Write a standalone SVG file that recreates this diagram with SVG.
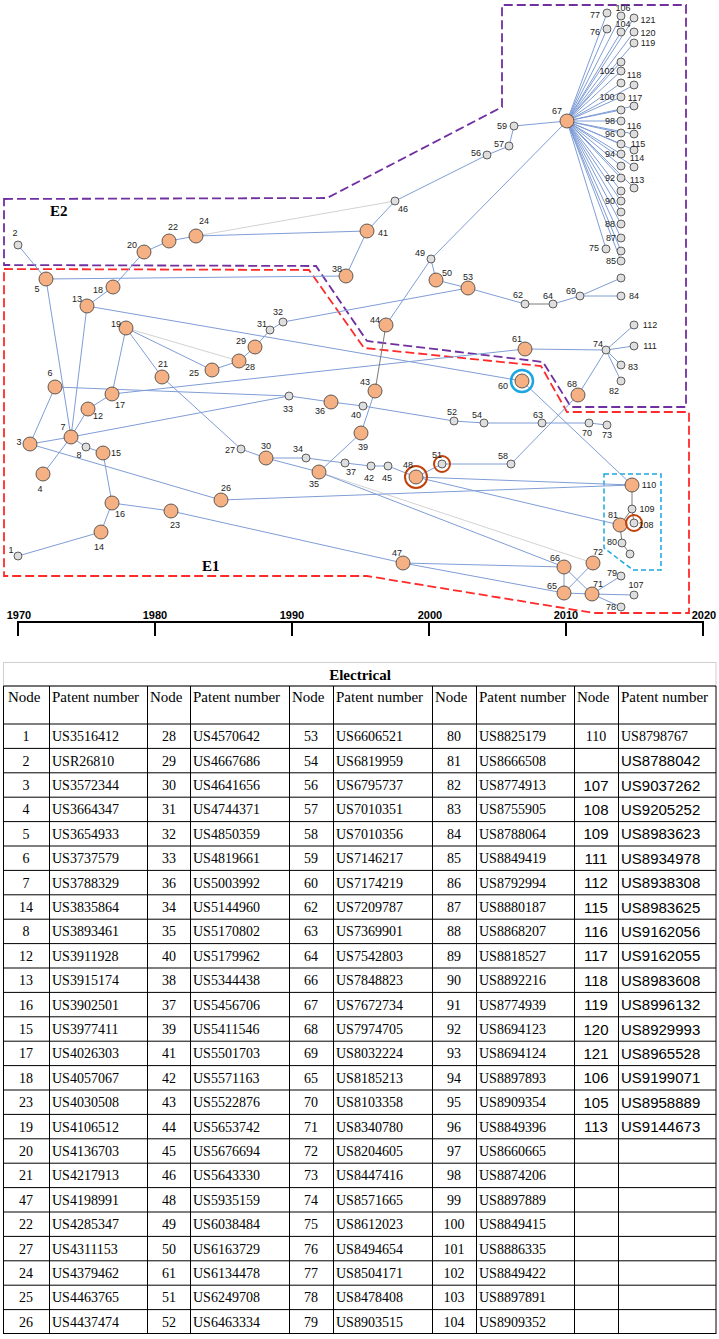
<svg xmlns="http://www.w3.org/2000/svg" width="719" height="1339" viewBox="0 0 719 1339">
<style>
.e{stroke:#7f9dd6;stroke-width:1;fill:none}
.eg{stroke:#d2d2d2;stroke-width:1;fill:none}
.ed{stroke:#7a7a7a;stroke-width:1;fill:none}
.o{fill:#f5b183;stroke:#3a3a3a;stroke-width:0.8}
.g{fill:#dedede;stroke:#3a3a3a;stroke-width:0.8}
.l{font-family:"Liberation Sans",Arial,sans-serif;font-size:9px;fill:#222;text-anchor:middle;dominant-baseline:central}
.ring{fill:none;stroke:#c0420a;stroke-width:2}
.bring{fill:none;stroke:#1ba6e2;stroke-width:2.5}
.reg{font-family:"Liberation Serif","Times New Roman",serif;font-size:15px;font-weight:bold;fill:#000}
.yr{font-family:"Liberation Sans",Arial,sans-serif;font-size:11px;font-weight:bold;text-anchor:middle;fill:#000}
.tn{font-family:"Liberation Serif","Times New Roman",serif;font-size:14px;text-anchor:middle;fill:#000}
.tp{font-family:"Liberation Serif","Times New Roman",serif;font-size:14px;fill:#000}
.an{font-family:"Liberation Sans",Arial,sans-serif;font-size:15px;text-anchor:middle;fill:#000}
.ap{font-family:"Liberation Sans",Arial,sans-serif;font-size:15px;fill:#000}
.th{font-family:"Liberation Serif","Times New Roman",serif;font-size:15px;fill:#000}
</style>
<rect width="719" height="1339" fill="#fff"/>
<g id="regions">
<polygon points="4,199 327,198 502,107 502,5 686,5 686,407 571,407 543,362 367,341 316,266 4,265" fill="none" stroke="#7030a0" stroke-width="1.8" stroke-dasharray="9,4"/>
<polygon points="4,269 309,270 364,348 541,366 567,412 689,412 689,613 594,613 367,576 4,576" fill="none" stroke="#ff2a2a" stroke-width="1.8" stroke-dasharray="9,4"/>
<polygon points="604,474 661,474 661,570 633,570 604,548" fill="none" stroke="#1ba6e2" stroke-width="1.5" stroke-dasharray="5,3"/>
<text class="reg" x="50" y="216">E2</text>
<text class="reg" x="202" y="571">E1</text>
</g>
<g id="edges">
<line class="eg" x1="196" y1="236" x2="395" y2="201"/>
<line class="eg" x1="126" y1="328" x2="239" y2="361"/>
<line class="eg" x1="319" y1="472" x2="593" y2="563"/>
<line class="e" x1="18" y1="245" x2="46" y2="279"/>
<line class="e" x1="46" y1="279" x2="71" y2="437"/>
<line class="e" x1="46" y1="279" x2="346" y2="276"/>
<line class="e" x1="87" y1="306" x2="71" y2="437"/>
<line class="e" x1="87" y1="306" x2="113" y2="287"/>
<line class="e" x1="113" y1="287" x2="144" y2="252"/>
<line class="e" x1="144" y1="252" x2="169" y2="241"/>
<line class="e" x1="169" y1="241" x2="196" y2="236"/>
<line class="e" x1="196" y1="236" x2="367" y2="231"/>
<line class="e" x1="367" y1="231" x2="395" y2="201"/>
<line class="e" x1="367" y1="231" x2="346" y2="276"/>
<line class="e" x1="395" y1="201" x2="487" y2="155"/>
<line class="e" x1="487" y1="155" x2="509" y2="146"/>
<line class="e" x1="509" y1="146" x2="514" y2="126"/>
<line class="e" x1="514" y1="126" x2="567" y2="121"/>
<line class="e" x1="87" y1="306" x2="522" y2="381"/>
<line class="e" x1="126" y1="328" x2="112" y2="394"/>
<line class="e" x1="126" y1="328" x2="162" y2="377"/>
<line class="e" x1="126" y1="328" x2="212" y2="370"/>
<line class="e" x1="212" y1="370" x2="239" y2="361"/>
<line class="e" x1="239" y1="361" x2="255" y2="347"/>
<line class="e" x1="255" y1="347" x2="270" y2="330"/>
<line class="e" x1="270" y1="330" x2="283" y2="322"/>
<line class="e" x1="283" y1="322" x2="468" y2="288"/>
<line class="e" x1="162" y1="377" x2="241" y2="449"/>
<line class="e" x1="241" y1="449" x2="266" y2="458"/>
<line class="e" x1="266" y1="458" x2="306" y2="458"/>
<line class="e" x1="306" y1="458" x2="345" y2="463"/>
<line class="e" x1="345" y1="463" x2="371" y2="466"/>
<line class="e" x1="371" y1="466" x2="388" y2="466"/>
<line class="e" x1="388" y1="466" x2="416" y2="477"/>
<line class="e" x1="266" y1="458" x2="319" y2="472"/>
<line class="e" x1="319" y1="472" x2="361" y2="433"/>
<line class="e" x1="361" y1="433" x2="375" y2="391"/>
<line class="e" x1="319" y1="472" x2="564" y2="567"/>
<line class="e" x1="386" y1="325" x2="431" y2="259"/>
<line class="e" x1="431" y1="259" x2="567" y2="121"/>
<line class="e" x1="431" y1="259" x2="436" y2="280"/>
<line class="e" x1="436" y1="280" x2="468" y2="288"/>
<line class="e" x1="468" y1="288" x2="525" y2="304"/>
<line class="e" x1="553" y1="304" x2="580" y2="296"/>
<line class="e" x1="580" y1="296" x2="621" y2="296"/>
<line class="e" x1="580" y1="296" x2="621" y2="278"/>
<line class="e" x1="55" y1="387" x2="30" y2="444"/>
<line class="e" x1="55" y1="387" x2="289" y2="396"/>
<line class="e" x1="289" y1="396" x2="331" y2="402"/>
<line class="e" x1="331" y1="402" x2="363" y2="406"/>
<line class="e" x1="363" y1="406" x2="454" y2="421"/>
<line class="e" x1="454" y1="421" x2="484" y2="423"/>
<line class="e" x1="484" y1="423" x2="542" y2="423"/>
<line class="e" x1="542" y1="423" x2="589" y2="423"/>
<line class="e" x1="589" y1="423" x2="607" y2="425"/>
<line class="e" x1="112" y1="394" x2="525" y2="349"/>
<line class="e" x1="525" y1="349" x2="606" y2="350"/>
<line class="e" x1="606" y1="350" x2="634" y2="325"/>
<line class="e" x1="606" y1="350" x2="634" y2="346"/>
<line class="e" x1="606" y1="350" x2="621" y2="365"/>
<line class="e" x1="606" y1="350" x2="621" y2="381"/>
<line class="e" x1="71" y1="437" x2="289" y2="396"/>
<line class="e" x1="30" y1="444" x2="71" y2="437"/>
<line class="e" x1="71" y1="437" x2="43" y2="474"/>
<line class="e" x1="71" y1="437" x2="88" y2="409"/>
<line class="e" x1="88" y1="409" x2="112" y2="394"/>
<line class="e" x1="71" y1="437" x2="86" y2="447"/>
<line class="e" x1="86" y1="447" x2="103" y2="453"/>
<line class="e" x1="103" y1="453" x2="112" y2="503"/>
<line class="e" x1="112" y1="503" x2="101" y2="532"/>
<line class="e" x1="101" y1="532" x2="18" y2="556"/>
<line class="e" x1="112" y1="503" x2="171" y2="511"/>
<line class="e" x1="171" y1="511" x2="403" y2="563"/>
<line class="e" x1="30" y1="444" x2="221" y2="500"/>
<line class="e" x1="221" y1="500" x2="632" y2="485"/>
<line class="e" x1="416" y1="477" x2="442" y2="464"/>
<line class="e" x1="442" y1="464" x2="511" y2="464"/>
<line class="e" x1="511" y1="464" x2="578" y2="395"/>
<line class="e" x1="578" y1="395" x2="606" y2="350"/>
<line class="e" x1="522" y1="381" x2="632" y2="485"/>
<line class="e" x1="416" y1="477" x2="632" y2="485"/>
<line class="e" x1="416" y1="477" x2="620" y2="525"/>
<line class="e" x1="403" y1="563" x2="564" y2="593"/>
<line class="e" x1="403" y1="563" x2="564" y2="567"/>
<line class="e" x1="564" y1="593" x2="564" y2="567"/>
<line class="e" x1="564" y1="593" x2="592" y2="594"/>
<line class="e" x1="564" y1="567" x2="592" y2="594"/>
<line class="e" x1="564" y1="593" x2="593" y2="563"/>
<line class="e" x1="592" y1="594" x2="621" y2="576"/>
<line class="e" x1="592" y1="594" x2="634" y2="595"/>
<line class="e" x1="592" y1="594" x2="621" y2="607"/>
<g id="fan">
<line class="e" x1="567" y1="121" x2="607" y2="13"/>
<line class="e" x1="567" y1="121" x2="607" y2="29"/>
<line class="e" x1="567" y1="121" x2="606" y2="249"/>
<line class="e" x1="567" y1="121" x2="621" y2="16"/>
<line class="e" x1="567" y1="121" x2="621" y2="32"/>
<line class="e" x1="567" y1="121" x2="621" y2="62"/>
<line class="e" x1="567" y1="121" x2="621" y2="71"/>
<line class="e" x1="567" y1="121" x2="621" y2="83"/>
<line class="e" x1="567" y1="121" x2="621" y2="97"/>
<line class="e" x1="567" y1="121" x2="621" y2="110"/>
<line class="e" x1="567" y1="121" x2="621" y2="121"/>
<line class="e" x1="567" y1="121" x2="621" y2="133"/>
<line class="e" x1="567" y1="121" x2="621" y2="144"/>
<line class="e" x1="567" y1="121" x2="621" y2="154"/>
<line class="e" x1="567" y1="121" x2="621" y2="166"/>
<line class="e" x1="567" y1="121" x2="621" y2="178"/>
<line class="e" x1="567" y1="121" x2="621" y2="191"/>
<line class="e" x1="567" y1="121" x2="621" y2="201"/>
<line class="e" x1="567" y1="121" x2="621" y2="212"/>
<line class="e" x1="567" y1="121" x2="621" y2="224"/>
<line class="e" x1="567" y1="121" x2="621" y2="238"/>
<line class="e" x1="567" y1="121" x2="621" y2="251"/>
<line class="e" x1="567" y1="121" x2="621" y2="261"/>
<line class="e" x1="567" y1="121" x2="634" y2="18"/>
<line class="e" x1="567" y1="121" x2="634" y2="32"/>
<line class="e" x1="567" y1="121" x2="634" y2="43"/>
<line class="e" x1="567" y1="121" x2="634" y2="85"/>
<line class="e" x1="567" y1="121" x2="634" y2="106"/>
<line class="e" x1="567" y1="121" x2="634" y2="134"/>
<line class="e" x1="567" y1="121" x2="634" y2="150"/>
<line class="e" x1="567" y1="121" x2="634" y2="167"/>
<line class="e" x1="567" y1="121" x2="634" y2="188"/>
</g>
<line class="ed" x1="375" y1="391" x2="386" y2="325"/>
<line class="ed" x1="525" y1="304" x2="553" y2="304"/>
<line class="ed" x1="632" y1="485" x2="632" y2="509"/>
<line class="ed" x1="632" y1="509" x2="620" y2="525"/>
<line class="ed" x1="632" y1="509" x2="634" y2="523"/>
<line class="ed" x1="620" y1="525" x2="622" y2="543"/>
<line class="ed" x1="622" y1="543" x2="630" y2="554"/>
</g>
<g id="nodes">
<g id="n1"><circle class="g" cx="18" cy="556" r="4"/><text class="l" x="11" y="550">1</text></g>
<g id="n2"><circle class="g" cx="18" cy="245" r="4"/><text class="l" x="15" y="233">2</text></g>
<g id="n3"><circle class="o" cx="30" cy="444" r="7"/><text class="l" x="19" y="442">3</text></g>
<g id="n4"><circle class="o" cx="43" cy="474" r="7"/><text class="l" x="40" y="489">4</text></g>
<g id="n5"><circle class="o" cx="46" cy="279" r="7"/><text class="l" x="37" y="289">5</text></g>
<g id="n6"><circle class="o" cx="55" cy="387" r="7"/><text class="l" x="50" y="373">6</text></g>
<g id="n7"><circle class="o" cx="71" cy="437" r="7"/><text class="l" x="63" y="427">7</text></g>
<g id="n8"><circle class="g" cx="86" cy="447" r="4"/><text class="l" x="79" y="455">8</text></g>
<g id="n12"><circle class="o" cx="88" cy="409" r="7"/><text class="l" x="98" y="416">12</text></g>
<g id="n13"><circle class="o" cx="87" cy="306" r="7"/><text class="l" x="77" y="299">13</text></g>
<g id="n14"><circle class="o" cx="101" cy="532" r="7"/><text class="l" x="99" y="547">14</text></g>
<g id="n15"><circle class="o" cx="103" cy="453" r="7"/><text class="l" x="116" y="453">15</text></g>
<g id="n16"><circle class="o" cx="112" cy="503" r="7"/><text class="l" x="120" y="514">16</text></g>
<g id="n17"><circle class="o" cx="112" cy="394" r="7"/><text class="l" x="120" y="405">17</text></g>
<g id="n18"><circle class="o" cx="113" cy="287" r="7"/><text class="l" x="98" y="290">18</text></g>
<g id="n19"><circle class="o" cx="126" cy="328" r="7"/><text class="l" x="116" y="324">19</text></g>
<g id="n20"><circle class="o" cx="144" cy="252" r="7"/><text class="l" x="132" y="245">20</text></g>
<g id="n21"><circle class="o" cx="162" cy="377" r="7"/><text class="l" x="163" y="364">21</text></g>
<g id="n22"><circle class="o" cx="169" cy="241" r="7"/><text class="l" x="173" y="227">22</text></g>
<g id="n23"><circle class="o" cx="171" cy="511" r="7"/><text class="l" x="175" y="525">23</text></g>
<g id="n24"><circle class="o" cx="196" cy="236" r="7"/><text class="l" x="204" y="221">24</text></g>
<g id="n25"><circle class="o" cx="212" cy="370" r="7"/><text class="l" x="194" y="373">25</text></g>
<g id="n26"><circle class="o" cx="221" cy="500" r="7"/><text class="l" x="226" y="488">26</text></g>
<g id="n27"><circle class="g" cx="241" cy="449" r="4"/><text class="l" x="230" y="450">27</text></g>
<g id="n28"><circle class="o" cx="239" cy="361" r="7"/><text class="l" x="250" y="367">28</text></g>
<g id="n29"><circle class="o" cx="255" cy="347" r="7"/><text class="l" x="241" y="341">29</text></g>
<g id="n30"><circle class="o" cx="266" cy="458" r="7"/><text class="l" x="266" y="446">30</text></g>
<g id="n31"><circle class="g" cx="270" cy="330" r="4"/><text class="l" x="262" y="324">31</text></g>
<g id="n32"><circle class="g" cx="283" cy="322" r="4"/><text class="l" x="278" y="312">32</text></g>
<g id="n33"><circle class="g" cx="289" cy="396" r="4"/><text class="l" x="288" y="409">33</text></g>
<g id="n34"><circle class="g" cx="306" cy="458" r="4"/><text class="l" x="298" y="449">34</text></g>
<g id="n35"><circle class="o" cx="319" cy="472" r="7"/><text class="l" x="314" y="484">35</text></g>
<g id="n36"><circle class="o" cx="331" cy="402" r="7"/><text class="l" x="320" y="411">36</text></g>
<g id="n37"><circle class="g" cx="345" cy="463" r="4"/><text class="l" x="351" y="472">37</text></g>
<g id="n38"><circle class="o" cx="346" cy="276" r="7"/><text class="l" x="337" y="269">38</text></g>
<g id="n39"><circle class="o" cx="361" cy="433" r="7"/><text class="l" x="363" y="447">39</text></g>
<g id="n40"><circle class="g" cx="363" cy="406" r="4"/><text class="l" x="356" y="415">40</text></g>
<g id="n41"><circle class="o" cx="367" cy="231" r="7"/><text class="l" x="383" y="233">41</text></g>
<g id="n42"><circle class="g" cx="371" cy="466" r="4"/><text class="l" x="369" y="478">42</text></g>
<g id="n43"><circle class="o" cx="375" cy="391" r="7"/><text class="l" x="365" y="382">43</text></g>
<g id="n44"><circle class="o" cx="386" cy="325" r="7"/><text class="l" x="375" y="320">44</text></g>
<g id="n45"><circle class="g" cx="388" cy="466" r="4"/><text class="l" x="387" y="478">45</text></g>
<g id="n46"><circle class="g" cx="395" cy="201" r="4"/><text class="l" x="403" y="209">46</text></g>
<g id="n47"><circle class="o" cx="403" cy="563" r="7"/><text class="l" x="397" y="553">47</text></g>
<g id="n48"><circle class="o" cx="416" cy="477" r="7"/><circle class="ring" cx="416" cy="477" r="11"/><text class="l" x="408" y="465">48</text></g>
<g id="n49"><circle class="g" cx="431" cy="259" r="4"/><text class="l" x="420" y="253">49</text></g>
<g id="n50"><circle class="o" cx="436" cy="280" r="7"/><text class="l" x="447" y="273">50</text></g>
<g id="n51"><circle class="g" cx="442" cy="464" r="4"/><circle class="ring" cx="442" cy="464" r="8"/><text class="l" x="437" y="455">51</text></g>
<g id="n52"><circle class="g" cx="454" cy="421" r="4"/><text class="l" x="452" y="412">52</text></g>
<g id="n53"><circle class="o" cx="468" cy="288" r="7"/><text class="l" x="468" y="277">53</text></g>
<g id="n54"><circle class="g" cx="484" cy="423" r="4"/><text class="l" x="477" y="415">54</text></g>
<g id="n56"><circle class="g" cx="487" cy="155" r="4"/><text class="l" x="476" y="153">56</text></g>
<g id="n57"><circle class="g" cx="509" cy="146" r="4"/><text class="l" x="499" y="144">57</text></g>
<g id="n58"><circle class="g" cx="511" cy="464" r="4"/><text class="l" x="503" y="456">58</text></g>
<g id="n59"><circle class="g" cx="514" cy="126" r="4"/><text class="l" x="502" y="126">59</text></g>
<g id="n60"><circle class="o" cx="522" cy="381" r="7"/><circle class="bring" cx="522" cy="381" r="11"/><text class="l" x="503" y="386">60</text></g>
<g id="n61"><circle class="o" cx="525" cy="349" r="7"/><text class="l" x="517" y="339">61</text></g>
<g id="n62"><circle class="g" cx="525" cy="304" r="4"/><text class="l" x="518" y="295">62</text></g>
<g id="n63"><circle class="g" cx="542" cy="423" r="4"/><text class="l" x="538" y="415">63</text></g>
<g id="n64"><circle class="g" cx="553" cy="304" r="4"/><text class="l" x="548" y="296">64</text></g>
<g id="n65"><circle class="o" cx="564" cy="593" r="7"/><text class="l" x="552" y="586">65</text></g>
<g id="n66"><circle class="o" cx="564" cy="567" r="7"/><text class="l" x="555" y="558">66</text></g>
<g id="n67"><circle class="o" cx="567" cy="121" r="7"/><text class="l" x="557" y="111">67</text></g>
<g id="n68"><circle class="o" cx="578" cy="395" r="7"/><text class="l" x="572" y="384">68</text></g>
<g id="n69"><circle class="g" cx="580" cy="296" r="4"/><text class="l" x="571" y="291">69</text></g>
<g id="n70"><circle class="g" cx="589" cy="423" r="4"/><text class="l" x="587" y="433">70</text></g>
<g id="n71"><circle class="o" cx="592" cy="594" r="7"/><text class="l" x="598" y="584">71</text></g>
<g id="n72"><circle class="o" cx="593" cy="563" r="7"/><text class="l" x="598" y="552">72</text></g>
<g id="n73"><circle class="g" cx="607" cy="425" r="4"/><text class="l" x="607" y="435">73</text></g>
<g id="n74"><circle class="g" cx="606" cy="350" r="4"/><text class="l" x="598" y="344">74</text></g>
<g id="n75"><circle class="g" cx="606" cy="249" r="4"/><text class="l" x="594" y="248">75</text></g>
<g id="n76"><circle class="g" cx="607" cy="29" r="4"/><text class="l" x="595" y="32">76</text></g>
<g id="n77"><circle class="g" cx="607" cy="13" r="4"/><text class="l" x="595" y="15">77</text></g>
<g id="n78"><circle class="g" cx="621" cy="607" r="4"/><text class="l" x="611" y="607">78</text></g>
<g id="n79"><circle class="g" cx="621" cy="576" r="4"/><text class="l" x="612" y="573">79</text></g>
<g id="n80"><circle class="g" cx="622" cy="543" r="4"/><text class="l" x="612" y="542">80</text></g>
<g id="n81"><circle class="o" cx="620" cy="525" r="7"/><text class="l" x="613" y="515">81</text></g>
<g id="n82"><circle class="g" cx="621" cy="381" r="4"/><text class="l" x="614" y="391">82</text></g>
<g id="n83"><circle class="g" cx="621" cy="365" r="4"/><text class="l" x="633" y="367">83</text></g>
<g id="n84"><circle class="g" cx="621" cy="296" r="4"/><text class="l" x="634" y="296">84</text></g>
<g id="n85"><circle class="g" cx="621" cy="261" r="4"/><text class="l" x="611" y="261">85</text></g>
<g id="n86"><circle class="g" cx="621" cy="251" r="4"/></g>
<g id="n87"><circle class="g" cx="621" cy="238" r="4"/><text class="l" x="611" y="238">87</text></g>
<g id="n88"><circle class="g" cx="621" cy="224" r="4"/><text class="l" x="610" y="224">88</text></g>
<g id="n89"><circle class="g" cx="621" cy="212" r="4"/></g>
<g id="n90"><circle class="g" cx="621" cy="201" r="4"/><text class="l" x="610" y="201">90</text></g>
<g id="n91"><circle class="g" cx="621" cy="191" r="4"/></g>
<g id="n92"><circle class="g" cx="621" cy="178" r="4"/><text class="l" x="610" y="178">92</text></g>
<g id="n93"><circle class="g" cx="621" cy="166" r="4"/></g>
<g id="n94"><circle class="g" cx="621" cy="154" r="4"/><text class="l" x="610" y="154">94</text></g>
<g id="n95"><circle class="g" cx="621" cy="144" r="4"/></g>
<g id="n96"><circle class="g" cx="621" cy="133" r="4"/><text class="l" x="610" y="134">96</text></g>
<g id="n98"><circle class="g" cx="621" cy="121" r="4"/><text class="l" x="610" y="121">98</text></g>
<g id="n99"><circle class="g" cx="621" cy="110" r="4"/></g>
<g id="n100"><circle class="g" cx="621" cy="97" r="4"/><text class="l" x="607" y="97">100</text></g>
<g id="n101"><circle class="g" cx="621" cy="83" r="4"/></g>
<g id="n102"><circle class="g" cx="621" cy="71" r="4"/><text class="l" x="607" y="71">102</text></g>
<g id="n103"><circle class="g" cx="621" cy="62" r="4"/></g>
<g id="n104"><circle class="g" cx="621" cy="32" r="4"/><text class="l" x="623" y="24">104</text></g>
<g id="n106"><circle class="g" cx="621" cy="16" r="4"/><text class="l" x="623" y="8">106</text></g>
<g id="n107"><circle class="g" cx="634" cy="595" r="4"/><text class="l" x="636" y="585">107</text></g>
<g id="n108"><circle class="g" cx="634" cy="523" r="4"/><circle class="ring" cx="634" cy="523" r="8"/><text class="l" x="646" y="525">108</text></g>
<g id="n109"><circle class="g" cx="632" cy="509" r="4"/><text class="l" x="647" y="509">109</text></g>
<g id="n110"><circle class="o" cx="632" cy="485" r="7"/><text class="l" x="649" y="485">110</text></g>
<g id="n111"><circle class="g" cx="634" cy="346" r="4"/><text class="l" x="650" y="346">111</text></g>
<g id="n112"><circle class="g" cx="634" cy="325" r="4"/><text class="l" x="650" y="325">112</text></g>
<g id="n113"><circle class="g" cx="634" cy="188" r="4"/><text class="l" x="637" y="180">113</text></g>
<g id="n114"><circle class="g" cx="634" cy="167" r="4"/><text class="l" x="637" y="158">114</text></g>
<g id="n115"><circle class="g" cx="634" cy="150" r="4"/><text class="l" x="638" y="144">115</text></g>
<g id="n116"><circle class="g" cx="634" cy="134" r="4"/><text class="l" x="634" y="126">116</text></g>
<g id="n117"><circle class="g" cx="634" cy="106" r="4"/><text class="l" x="635" y="98">117</text></g>
<g id="n118"><circle class="g" cx="634" cy="85" r="4"/><text class="l" x="634" y="75">118</text></g>
<g id="n119"><circle class="g" cx="634" cy="43" r="4"/><text class="l" x="648" y="43">119</text></g>
<g id="n120"><circle class="g" cx="634" cy="32" r="4"/><text class="l" x="648" y="33">120</text></g>
<g id="n121"><circle class="g" cx="634" cy="18" r="4"/><text class="l" x="648" y="20">121</text></g>
<g id="n_a"><circle class="g" cx="621" cy="278" r="4"/></g>
<g id="n_b"><circle class="g" cx="630" cy="554" r="4"/></g>
</g>
<g id="axis" stroke="#000" stroke-width="2">
<line x1="17" y1="622" x2="704" y2="622"/>
<line x1="18" y1="621" x2="18" y2="636"/>
<line x1="155" y1="621" x2="155" y2="636"/>
<line x1="292" y1="621" x2="292" y2="636"/>
<line x1="429" y1="621" x2="429" y2="636"/>
<line x1="566" y1="621" x2="566" y2="636"/>
<line x1="703" y1="621" x2="703" y2="636"/>
</g>
<g id="years">
<text class="yr" x="19" y="619">1970</text>
<text class="yr" x="155" y="619">1980</text>
<text class="yr" x="292" y="619">1990</text>
<text class="yr" x="430" y="619">2000</text>
<text class="yr" x="566" y="619">2010</text>
<text class="yr" x="704" y="619">2020</text>
</g>
<g id="table">
<rect x="3.5" y="662.5" width="712.5" height="23.5" fill="none" stroke="#cfcfcf" stroke-width="1"/>
<text x="360" y="680" font-family="'Liberation Serif','Times New Roman',serif" font-size="15" font-weight="bold" text-anchor="middle">Electrical</text>
<path fill="none" stroke="#000" stroke-width="1" d="M3.5 686V1334M49.5 686V1334M147.5 686V1334M190.5 686V1334M289.5 686V1334M333.5 686V1334M432.5 686V1334M476.5 686V1334M574.5 686V1334M618.5 686V1334M716 686V1334M3.5 686H716M3.5 724H716M3.5 748.4H716M3.5 772.8H716M3.5 797.2H716M3.5 821.6H716M3.5 846H716M3.5 870.4H716M3.5 894.8H716M3.5 919.2H716M3.5 943.6H716M3.5 968H716M3.5 992.4H716M3.5 1016.8H716M3.5 1041.2H716M3.5 1065.6H716M3.5 1090H716M3.5 1114.4H716M3.5 1138.8H716M3.5 1163.2H716M3.5 1187.6H716M3.5 1212H716M3.5 1236.4H716M3.5 1260.8H716M3.5 1285.2H716M3.5 1309.6H716M3.5 1333.5H716"/>
<text class="th" y="702"><tspan x="8">Node</tspan><tspan x="52">Patent number</tspan><tspan x="150">Node</tspan><tspan x="193">Patent number</tspan><tspan x="292">Node</tspan><tspan x="336">Patent number</tspan><tspan x="435">Node</tspan><tspan x="479">Patent number</tspan><tspan x="577">Node</tspan><tspan x="621">Patent number</tspan></text>
<text class="tn"><tspan x="26" y="741.2">1</tspan><tspan x="26" y="765.6">2</tspan><tspan x="26" y="790">3</tspan><tspan x="26" y="814.4">4</tspan><tspan x="26" y="838.8">5</tspan><tspan x="26" y="863.2">6</tspan><tspan x="26" y="887.6">7</tspan><tspan x="26" y="912">14</tspan><tspan x="26" y="936.4">8</tspan><tspan x="26" y="960.8">12</tspan><tspan x="26" y="985.2">13</tspan><tspan x="26" y="1009.6">16</tspan><tspan x="26" y="1034">15</tspan><tspan x="26" y="1058.4">17</tspan><tspan x="26" y="1082.8">18</tspan><tspan x="26" y="1107.2">23</tspan><tspan x="26" y="1131.6">19</tspan><tspan x="26" y="1156">20</tspan><tspan x="26" y="1180.4">21</tspan><tspan x="26" y="1204.8">47</tspan><tspan x="26" y="1229.2">22</tspan><tspan x="26" y="1253.6">27</tspan><tspan x="26" y="1278">24</tspan><tspan x="26" y="1302.4">25</tspan><tspan x="26" y="1326.8">26</tspan></text>
<text class="tp"><tspan x="52" y="741.2">US3516412</tspan><tspan x="52" y="765.6">USR26810</tspan><tspan x="52" y="790">US3572344</tspan><tspan x="52" y="814.4">US3664347</tspan><tspan x="52" y="838.8">US3654933</tspan><tspan x="52" y="863.2">US3737579</tspan><tspan x="52" y="887.6">US3788329</tspan><tspan x="52" y="912">US3835864</tspan><tspan x="52" y="936.4">US3893461</tspan><tspan x="52" y="960.8">US3911928</tspan><tspan x="52" y="985.2">US3915174</tspan><tspan x="52" y="1009.6">US3902501</tspan><tspan x="52" y="1034">US3977411</tspan><tspan x="52" y="1058.4">US4026303</tspan><tspan x="52" y="1082.8">US4057067</tspan><tspan x="52" y="1107.2">US4030508</tspan><tspan x="52" y="1131.6">US4106512</tspan><tspan x="52" y="1156">US4136703</tspan><tspan x="52" y="1180.4">US4217913</tspan><tspan x="52" y="1204.8">US4198991</tspan><tspan x="52" y="1229.2">US4285347</tspan><tspan x="52" y="1253.6">US4311153</tspan><tspan x="52" y="1278">US4379462</tspan><tspan x="52" y="1302.4">US4463765</tspan><tspan x="52" y="1326.8">US4437474</tspan></text>
<text class="tn"><tspan x="169" y="741.2">28</tspan><tspan x="169" y="765.6">29</tspan><tspan x="169" y="790">30</tspan><tspan x="169" y="814.4">31</tspan><tspan x="169" y="838.8">32</tspan><tspan x="169" y="863.2">33</tspan><tspan x="169" y="887.6">36</tspan><tspan x="169" y="912">34</tspan><tspan x="169" y="936.4">35</tspan><tspan x="169" y="960.8">40</tspan><tspan x="169" y="985.2">38</tspan><tspan x="169" y="1009.6">37</tspan><tspan x="169" y="1034">39</tspan><tspan x="169" y="1058.4">41</tspan><tspan x="169" y="1082.8">42</tspan><tspan x="169" y="1107.2">43</tspan><tspan x="169" y="1131.6">44</tspan><tspan x="169" y="1156">45</tspan><tspan x="169" y="1180.4">46</tspan><tspan x="169" y="1204.8">48</tspan><tspan x="169" y="1229.2">49</tspan><tspan x="169" y="1253.6">50</tspan><tspan x="169" y="1278">61</tspan><tspan x="169" y="1302.4">51</tspan><tspan x="169" y="1326.8">52</tspan></text>
<text class="tp"><tspan x="193" y="741.2">US4570642</tspan><tspan x="193" y="765.6">US4667686</tspan><tspan x="193" y="790">US4641656</tspan><tspan x="193" y="814.4">US4744371</tspan><tspan x="193" y="838.8">US4850359</tspan><tspan x="193" y="863.2">US4819661</tspan><tspan x="193" y="887.6">US5003992</tspan><tspan x="193" y="912">US5144960</tspan><tspan x="193" y="936.4">US5170802</tspan><tspan x="193" y="960.8">US5179962</tspan><tspan x="193" y="985.2">US5344438</tspan><tspan x="193" y="1009.6">US5456706</tspan><tspan x="193" y="1034">US5411546</tspan><tspan x="193" y="1058.4">US5501703</tspan><tspan x="193" y="1082.8">US5571163</tspan><tspan x="193" y="1107.2">US5522876</tspan><tspan x="193" y="1131.6">US5653742</tspan><tspan x="193" y="1156">US5676694</tspan><tspan x="193" y="1180.4">US5643330</tspan><tspan x="193" y="1204.8">US5935159</tspan><tspan x="193" y="1229.2">US6038484</tspan><tspan x="193" y="1253.6">US6163729</tspan><tspan x="193" y="1278">US6134478</tspan><tspan x="193" y="1302.4">US6249708</tspan><tspan x="193" y="1326.8">US6463334</tspan></text>
<text class="tn"><tspan x="311" y="741.2">53</tspan><tspan x="311" y="765.6">54</tspan><tspan x="311" y="790">56</tspan><tspan x="311" y="814.4">57</tspan><tspan x="311" y="838.8">58</tspan><tspan x="311" y="863.2">59</tspan><tspan x="311" y="887.6">60</tspan><tspan x="311" y="912">62</tspan><tspan x="311" y="936.4">63</tspan><tspan x="311" y="960.8">64</tspan><tspan x="311" y="985.2">66</tspan><tspan x="311" y="1009.6">67</tspan><tspan x="311" y="1034">68</tspan><tspan x="311" y="1058.4">69</tspan><tspan x="311" y="1082.8">65</tspan><tspan x="311" y="1107.2">70</tspan><tspan x="311" y="1131.6">71</tspan><tspan x="311" y="1156">72</tspan><tspan x="311" y="1180.4">73</tspan><tspan x="311" y="1204.8">74</tspan><tspan x="311" y="1229.2">75</tspan><tspan x="311" y="1253.6">76</tspan><tspan x="311" y="1278">77</tspan><tspan x="311" y="1302.4">78</tspan><tspan x="311" y="1326.8">79</tspan></text>
<text class="tp"><tspan x="336" y="741.2">US6606521</tspan><tspan x="336" y="765.6">US6819959</tspan><tspan x="336" y="790">US6795737</tspan><tspan x="336" y="814.4">US7010351</tspan><tspan x="336" y="838.8">US7010356</tspan><tspan x="336" y="863.2">US7146217</tspan><tspan x="336" y="887.6">US7174219</tspan><tspan x="336" y="912">US7209787</tspan><tspan x="336" y="936.4">US7369901</tspan><tspan x="336" y="960.8">US7542803</tspan><tspan x="336" y="985.2">US7848823</tspan><tspan x="336" y="1009.6">US7672734</tspan><tspan x="336" y="1034">US7974705</tspan><tspan x="336" y="1058.4">US8032224</tspan><tspan x="336" y="1082.8">US8185213</tspan><tspan x="336" y="1107.2">US8103358</tspan><tspan x="336" y="1131.6">US8340780</tspan><tspan x="336" y="1156">US8204605</tspan><tspan x="336" y="1180.4">US8447416</tspan><tspan x="336" y="1204.8">US8571665</tspan><tspan x="336" y="1229.2">US8612023</tspan><tspan x="336" y="1253.6">US8494654</tspan><tspan x="336" y="1278">US8504171</tspan><tspan x="336" y="1302.4">US8478408</tspan><tspan x="336" y="1326.8">US8903515</tspan></text>
<text class="tn"><tspan x="454" y="741.2">80</tspan><tspan x="454" y="765.6">81</tspan><tspan x="454" y="790">82</tspan><tspan x="454" y="814.4">83</tspan><tspan x="454" y="838.8">84</tspan><tspan x="454" y="863.2">85</tspan><tspan x="454" y="887.6">86</tspan><tspan x="454" y="912">87</tspan><tspan x="454" y="936.4">88</tspan><tspan x="454" y="960.8">89</tspan><tspan x="454" y="985.2">90</tspan><tspan x="454" y="1009.6">91</tspan><tspan x="454" y="1034">92</tspan><tspan x="454" y="1058.4">93</tspan><tspan x="454" y="1082.8">94</tspan><tspan x="454" y="1107.2">95</tspan><tspan x="454" y="1131.6">96</tspan><tspan x="454" y="1156">97</tspan><tspan x="454" y="1180.4">98</tspan><tspan x="454" y="1204.8">99</tspan><tspan x="454" y="1229.2">100</tspan><tspan x="454" y="1253.6">101</tspan><tspan x="454" y="1278">102</tspan><tspan x="454" y="1302.4">103</tspan><tspan x="454" y="1326.8">104</tspan></text>
<text class="tp"><tspan x="479" y="741.2">US8825179</tspan><tspan x="479" y="765.6">US8666508</tspan><tspan x="479" y="790">US8774913</tspan><tspan x="479" y="814.4">US8755905</tspan><tspan x="479" y="838.8">US8788064</tspan><tspan x="479" y="863.2">US8849419</tspan><tspan x="479" y="887.6">US8792994</tspan><tspan x="479" y="912">US8880187</tspan><tspan x="479" y="936.4">US8868207</tspan><tspan x="479" y="960.8">US8818527</tspan><tspan x="479" y="985.2">US8892216</tspan><tspan x="479" y="1009.6">US8774939</tspan><tspan x="479" y="1034">US8694123</tspan><tspan x="479" y="1058.4">US8694124</tspan><tspan x="479" y="1082.8">US8897893</tspan><tspan x="479" y="1107.2">US8909354</tspan><tspan x="479" y="1131.6">US8849396</tspan><tspan x="479" y="1156">US8660665</tspan><tspan x="479" y="1180.4">US8874206</tspan><tspan x="479" y="1204.8">US8897889</tspan><tspan x="479" y="1229.2">US8849415</tspan><tspan x="479" y="1253.6">US8886335</tspan><tspan x="479" y="1278">US8849422</tspan><tspan x="479" y="1302.4">US8897891</tspan><tspan x="479" y="1326.8">US8909352</tspan></text>
<text class="tn" x="596" y="741.2">110</text>
<text class="tp" x="621" y="741.2">US8798767</text>
<text class="an"><tspan x="596" y="790.5">107</tspan><tspan x="596" y="814.9">108</tspan><tspan x="596" y="839.3">109</tspan><tspan x="596" y="863.7">111</tspan><tspan x="596" y="888.1">112</tspan><tspan x="596" y="912.5">115</tspan><tspan x="596" y="936.9">116</tspan><tspan x="596" y="961.3">117</tspan><tspan x="596" y="985.7">118</tspan><tspan x="596" y="1010.1">119</tspan><tspan x="596" y="1034.5">120</tspan><tspan x="596" y="1058.9">121</tspan><tspan x="596" y="1083.3">106</tspan><tspan x="596" y="1107.7">105</tspan><tspan x="596" y="1132.1">113</tspan></text>
<text class="ap"><tspan x="621" y="766.1">US8788042</tspan><tspan x="621" y="790.5">US9037262</tspan><tspan x="621" y="814.9">US9205252</tspan><tspan x="621" y="839.3">US8983623</tspan><tspan x="621" y="863.7">US8934978</tspan><tspan x="621" y="888.1">US8938308</tspan><tspan x="621" y="912.5">US8983625</tspan><tspan x="621" y="936.9">US9162056</tspan><tspan x="621" y="961.3">US9162055</tspan><tspan x="621" y="985.7">US8983608</tspan><tspan x="621" y="1010.1">US8996132</tspan><tspan x="621" y="1034.5">US8929993</tspan><tspan x="621" y="1058.9">US8965528</tspan><tspan x="621" y="1083.3">US9199071</tspan><tspan x="621" y="1107.7">US8958889</tspan><tspan x="621" y="1132.1">US9144673</tspan></text>
</g>
</svg>
